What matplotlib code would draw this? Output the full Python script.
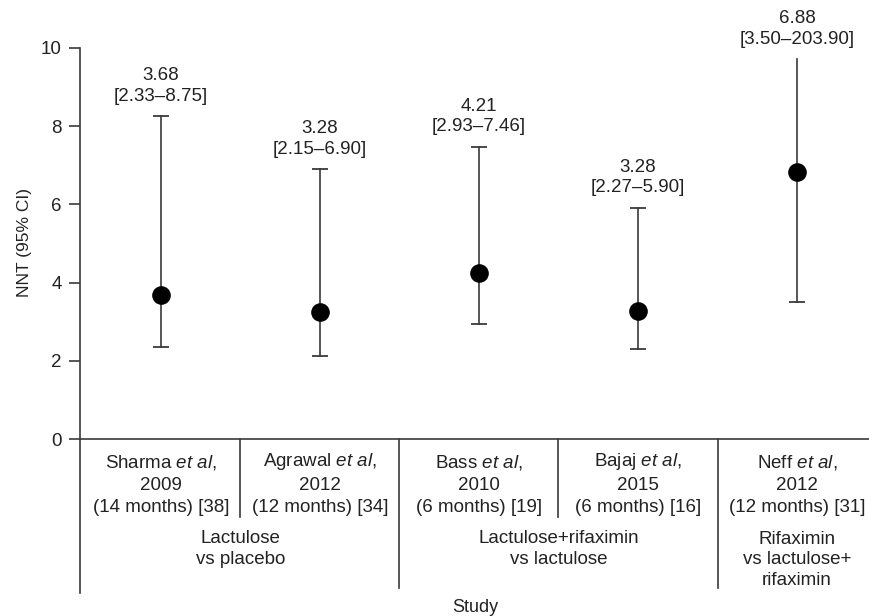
import matplotlib
matplotlib.use("Agg")
import matplotlib.pyplot as plt
from matplotlib.transforms import blended_transform_factory

plt.rcParams['font.family'] = ['Liberation Sans', 'DejaVu Sans']
plt.rcParams['mathtext.fontset'] = 'custom'
plt.rcParams['mathtext.rm'] = 'Liberation Sans'
plt.rcParams['mathtext.it'] = 'Liberation Sans:italic'

# ---- data ----
studies = ["Sharma", "Agrawal", "Bass", "Bajaj", "Neff"]
years = ["2009", "2012", "2010", "2015", "2012"]
durations = ["(14 months) [38]", "(12 months) [34]", "(6 months) [19]",
             "(6 months) [16]", "(12 months) [31]"]
nnt = [3.68, 3.25, 4.24, 3.27, 6.83]            # plotted point
ci_low = [2.35, 2.12, 2.94, 2.30, 3.50]          # plotted lower whisker
ci_high = [8.26, 6.90, 7.48, 5.92, 9.72]         # plotted upper whisker (Neff clipped)
upper_capped = [True, True, True, True, False]
nnt_labels = ["3.68", "3.28", "4.21", "3.28", "6.88"]
ci_labels = ["[2.33\u20138.75]", "[2.15\u20136.90]", "[2.93\u20137.46]",
             "[2.27\u20135.90]", "[3.50\u2013203.90]"]
groups = ["Lactulose\nvs placebo", "Lactulose+rifaximin\nvs lactulose",
          "Rifaximin\nvs lactulose+\nrifaximin"]
group_members = [[0, 1], [2, 3], [4]]
yticks = [0, 2, 4, 6, 8, 10]

W, H = 870, 616
fig = plt.figure(figsize=(W / 100, H / 100), dpi=100)
ax = fig.add_axes([80 / W, (H - 439) / H, (870 - 80) / W, (439 - 48) / H])

line_c = "#3a3a3a"
text_c = "#222222"
fs = 13.5

x = list(range(len(studies)))
ax.set_xlim(-0.509, 4.459)
ax.set_ylim(0, 10)

for i in x:
    ax.plot([i, i], [ci_low[i], ci_high[i]], color=line_c, lw=1.2, zorder=2, clip_on=False)
    ax.plot([i], [ci_low[i]], marker="_", ms=11, mew=1.3, color=line_c, zorder=2)
    if upper_capped[i]:
        ax.plot([i], [ci_high[i]], marker="_", ms=11, mew=1.3, color=line_c, zorder=2)
    ax.plot([i], [nnt[i]], marker="o", ms=12.4, color="black", zorder=3, clip_on=False)
    ax.annotate(nnt_labels[i] + "\n" + ci_labels[i], (i, ci_high[i]),
                xytext=(0, 8), textcoords="offset points", ha="center", va="bottom",
                fontsize=fs, color=text_c, linespacing=1.3, annotation_clip=False)

ax.spines['top'].set_visible(False)
ax.spines['right'].set_visible(False)
for s in ['left', 'bottom']:
    ax.spines[s].set_color(line_c)
    ax.spines[s].set_linewidth(1.2)
ax.set_yticks(yticks)
ax.set_yticklabels([str(t) for t in yticks], fontsize=fs, color=text_c)
ax.tick_params(axis='y', length=8, width=1.2, color=line_c, pad=5)
ax.set_xticks([])

tr = blended_transform_factory(ax.transData, fig.transFigure)
def fy(py):
    return 1 - py / H

# left spine extension below the axis
ax.plot([-0.509, -0.509], [fy(439), fy(593)], transform=tr, color=line_c, lw=1.2, clip_on=False)

for gi, members in enumerate(group_members):
    left = members[0] - 0.5
    right = members[-1] + 0.5
    if gi > 0:
        ax.plot([left, left], [fy(439), fy(588)], transform=tr, color=line_c, lw=1.2, clip_on=False)
    for m in members[1:]:
        ax.plot([m - 0.5, m - 0.5], [fy(439), fy(517)], transform=tr, color=line_c, lw=1.2, clip_on=False)
    ax.text((left + right) / 2, fy(549 if gi < 2 else 560), groups[gi], transform=tr,
            ha="center", va="center", fontsize=fs, color=text_c, linespacing=1.3)

for i in x:
    ax.text(i, fy(462), f"{studies[i]} $\\it{{et\\ al}}$,", transform=tr, ha="center", va="center",
            fontsize=fs, color=text_c)
    ax.text(i, fy(485), years[i], transform=tr, ha="center", va="center", fontsize=fs, color=text_c)
    ax.text(i, fy(508), durations[i], transform=tr, ha="center", va="center", fontsize=fs, color=text_c)

fig.text(475 / W, fy(607), "Study", ha="center", va="center", fontsize=13, color=text_c)
fig.text(25 / W, fy(243), "NNT (95% CI)", ha="center", va="center", rotation=90,
         fontsize=12.5, color=text_c)

fig.savefig("out.png", dpi=100, facecolor="white")
